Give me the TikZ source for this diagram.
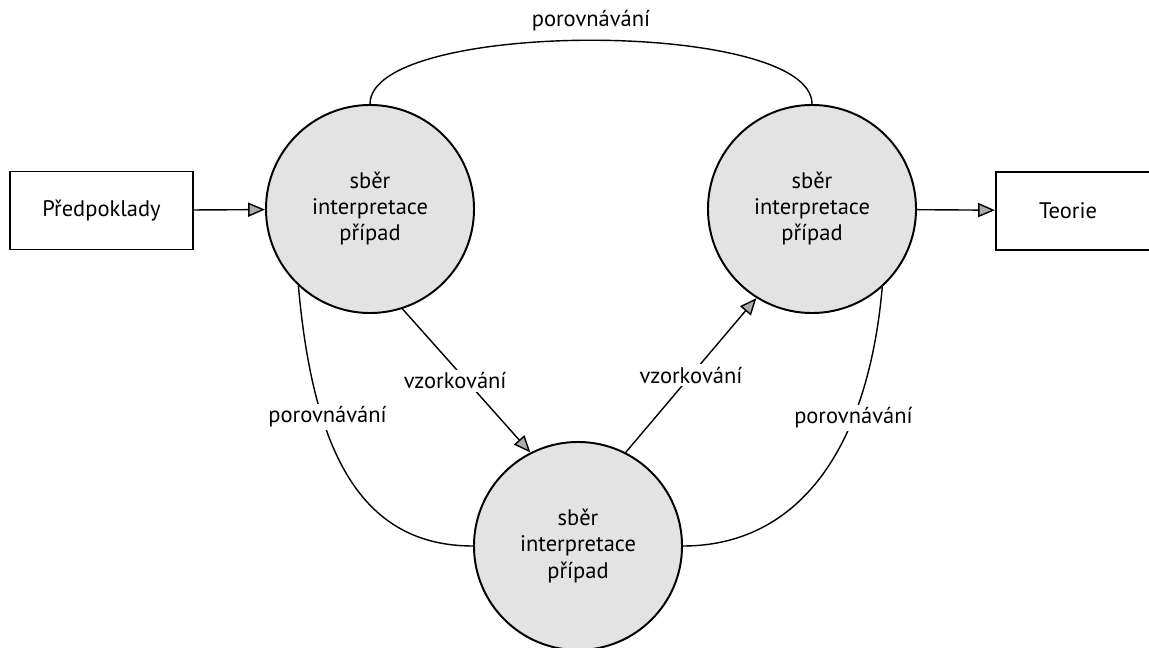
\documentclass[tikz,border=0pt]{standalone}
\usepackage{fontspec}
\setmainfont{PT Sans}
\usetikzlibrary{arrows.meta}

\begin{document}
\begin{tikzpicture}[x=0.025cm, y=-0.025cm,
  >={Triangle[length=12pt, width=10pt, fill=gray!65]},
  font=\fontsize{16}{18.5}\selectfont,
  stage/.style={circle, draw, line width=1.4pt, fill=gray!22,
    minimum size=5.2cm, inner sep=0pt, align=center},
  term/.style={draw, line width=1.4pt, minimum height=1.95cm},
  link/.style={line width=1pt},
  tag/.style={fill=white, inner sep=2pt}]

\useasboundingbox (0,0) rectangle (1149,648);

% Stages
\node[stage] (s1) at (370,209) {sběr\\interpretace\\případ};
\node[stage] (s2) at (812,209) {sběr\\interpretace\\případ};
\node[stage] (s3) at (578,546) {sběr\\interpretace\\případ};

% Start and end boxes
\node[term, minimum width=4.575cm] (pre) at (101.5,210.5) {Předpoklady};
\node[term, anchor=west, inner xsep=1.075cm, text width=4cm, align=left] (teo) at (995,211) {Teorie};

% Input and output
\draw[link, ->] (pre) -- (s1);
\draw[link, ->] (s2) -- (teo);

% Sampling
\draw[link, ->] (s1.-72) -- node[tag, xshift=-8pt] {vzorkování} (s3.117);
\draw[link, ->] (s3.63) -- node[tag] {vzorkování} (s2.238);

% Comparison
\draw[link] (s1.north) .. controls +(0,-85) and +(0,-85) .. node[above=3pt] (cmp) {porovnávání} (s2.north);
\draw[link] (s1.227) .. controls +(15,170) and +(-110,0) .. node[tag, pos=0.3, xshift=4pt] {porovnávání} (s3.west);
\draw[link] (s3.east) .. controls +(110,0) and +(-15,170) .. node[tag, pos=0.7] {porovnávání} (s2.312);

\end{tikzpicture}
\end{document}
